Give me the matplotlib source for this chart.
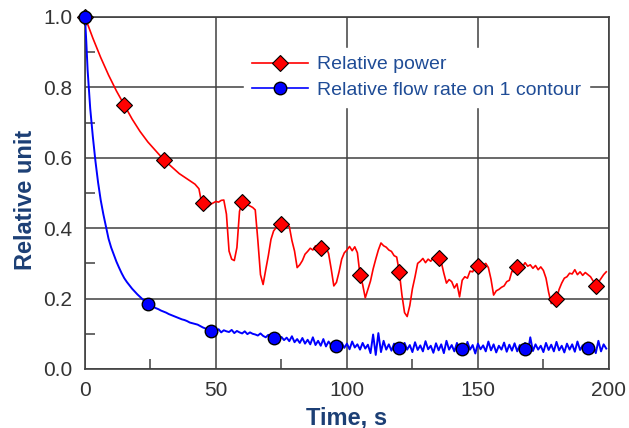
import matplotlib
matplotlib.use("Agg")
from matplotlib import pyplot as plt
from matplotlib.lines import Line2D
from matplotlib.ticker import MultipleLocator

plt.rcParams['font.family'] = ['Liberation Sans', 'DejaVu Sans']

# relative power: smooth start, then 1 s samples
power_t = [0, 3, 6, 9, 12, 15, 18, 21, 24, 27, 30, 33, 36, 39, 42, 43.5, 44.2] + list(range(45, 200))
power_y = [1.0, 0.94, 0.885, 0.835, 0.79, 0.75, 0.71, 0.675, 0.645, 0.62, 0.595, 0.575, 0.555, 0.54, 0.525, 0.512, 0.485,
           0.472, 0.465, 0.461, 0.468, 0.472, 0.476, 0.474, 0.479, 0.480, 0.440,
           0.335, 0.312, 0.308, 0.345, 0.448, 0.474, 0.470, 0.467, 0.463, 0.459,
           0.452, 0.365, 0.268, 0.240, 0.282, 0.322, 0.368, 0.392, 0.402, 0.408,
           0.412, 0.411, 0.408, 0.405, 0.365, 0.335, 0.288, 0.296, 0.308, 0.326,
           0.334, 0.343, 0.338, 0.350, 0.343, 0.344, 0.352, 0.346, 0.328, 0.284,
           0.236, 0.246, 0.276, 0.312, 0.330, 0.338, 0.348, 0.336, 0.347, 0.330,
           0.267, 0.240, 0.202, 0.226, 0.250, 0.284, 0.312, 0.338, 0.358, 0.350,
           0.346, 0.338, 0.334, 0.322, 0.318, 0.275, 0.210, 0.160, 0.149, 0.180,
           0.228, 0.262, 0.300, 0.306, 0.314, 0.302, 0.312, 0.306, 0.316, 0.308,
           0.315, 0.304, 0.272, 0.244, 0.254, 0.248, 0.230, 0.242, 0.205, 0.252,
           0.262, 0.258, 0.278, 0.276, 0.290, 0.292, 0.302, 0.294, 0.300, 0.288,
           0.255, 0.210, 0.222, 0.226, 0.232, 0.236, 0.248, 0.252, 0.278, 0.276,
           0.290, 0.298, 0.290, 0.302, 0.292, 0.296, 0.286, 0.294, 0.282, 0.290,
           0.280, 0.258, 0.218, 0.186, 0.190, 0.200, 0.226, 0.244, 0.258, 0.262,
           0.272, 0.270, 0.282, 0.268, 0.276, 0.266, 0.274, 0.268, 0.262, 0.250,
           0.240, 0.246, 0.257, 0.268, 0.276]
power_mark_t = [0, 15, 30, 45, 60, 75, 90, 105, 120, 135, 150, 165, 180, 195]
power_mark_y = [1.0, 0.75, 0.595, 0.472, 0.474, 0.412, 0.344, 0.267, 0.275, 0.315, 0.292, 0.29, 0.2, 0.236]

# relative flow rate on 1 contour
flow_t = [0, 0.5, 1, 2, 3, 4, 5, 6, 7, 8, 9, 10, 11, 12, 13, 14, 15, 16, 18, 20, 22, 24] + list(range(25, 200))
flow_y = [1.0, 0.93, 0.85, 0.74, 0.66, 0.59, 0.53, 0.48, 0.44, 0.405, 0.37, 0.345, 0.325, 0.305, 0.288,
          0.272, 0.258, 0.247, 0.228, 0.212, 0.198, 0.185,
          0.181, 0.177, 0.173, 0.170, 0.166, 0.163, 0.160, 0.156, 0.153, 0.150,
          0.147, 0.144, 0.141, 0.139, 0.136, 0.132, 0.130, 0.128, 0.126, 0.122,
          0.118, 0.115, 0.112, 0.110, 0.114, 0.108, 0.113, 0.104, 0.110, 0.107,
          0.105, 0.111, 0.102, 0.108, 0.104, 0.101, 0.107, 0.099, 0.104, 0.100,
          0.098, 0.095, 0.101, 0.094, 0.090, 0.097, 0.089, 0.088, 0.094, 0.083,
          0.091, 0.082, 0.089, 0.079, 0.093, 0.076, 0.085, 0.074, 0.088, 0.072,
          0.083, 0.070, 0.090, 0.068, 0.080, 0.066, 0.085, 0.064, 0.078, 0.067,
          0.062, 0.080, 0.058, 0.075, 0.060, 0.072, 0.056, 0.078, 0.061, 0.070,
          0.055, 0.074, 0.058, 0.069, 0.045, 0.098, 0.040, 0.102, 0.048, 0.080,
          0.055, 0.070, 0.052, 0.072, 0.060, 0.062, 0.050, 0.074, 0.055, 0.068,
          0.048, 0.076, 0.054, 0.067, 0.050, 0.079, 0.056, 0.066, 0.046, 0.073,
          0.053, 0.070, 0.045, 0.080, 0.055, 0.068, 0.050, 0.074, 0.052, 0.060,
          0.048, 0.077, 0.055, 0.068, 0.044, 0.072, 0.056, 0.067, 0.050, 0.078,
          0.053, 0.070, 0.047, 0.066, 0.055, 0.075, 0.049, 0.069, 0.052, 0.073,
          0.050, 0.068, 0.056, 0.074, 0.044, 0.090, 0.051, 0.070, 0.055, 0.066,
          0.048, 0.074, 0.054, 0.069, 0.050, 0.077, 0.053, 0.066, 0.047, 0.072,
          0.055, 0.070, 0.049, 0.078, 0.054, 0.067, 0.050, 0.075, 0.056, 0.065,
          0.045, 0.080, 0.050, 0.070, 0.058]
flow_mark_t = [0, 24, 48, 72, 96, 120, 144, 168, 192]
flow_mark_y = [1.0, 0.185, 0.108, 0.088, 0.065, 0.06, 0.057, 0.057, 0.06]

labels = ["Relative power", "Relative flow rate on 1 contour"]

fig = plt.figure(figsize=(6.29, 4.28), dpi=100)
ax = fig.add_axes([0.1351, 0.1379, 0.8329, 0.8224])

frame_col = "#404040"
ax.plot(power_t, power_y, color="#FF0000", lw=1.2, zorder=3)
ax.plot(power_mark_t, power_mark_y, ls="none", marker="D", ms=8, mfc="#FF0000", mec="black", mew=0.8,
        zorder=4, clip_on=False)
ax.plot(flow_t, flow_y, color="#0000FF", lw=1.4, zorder=5)
ax.plot(flow_mark_t, flow_mark_y, ls="none", marker="o", ms=9, mfc="#0000FF", mec="black", mew=1.0,
        zorder=6, clip_on=False)

ax.set_xlim(0, 200)
ax.set_ylim(0, 1.0)
ax.xaxis.set_major_locator(MultipleLocator(50))
ax.xaxis.set_minor_locator(MultipleLocator(25))
ax.yaxis.set_major_locator(MultipleLocator(0.2))
ax.yaxis.set_minor_locator(MultipleLocator(0.1))
ax.yaxis.set_major_formatter(matplotlib.ticker.FormatStrFormatter("%.1f"))
ax.grid(True, which="major", color=frame_col, lw=1.1, zorder=1)
ax.tick_params(which="major", length=0, pad=9, labelsize=15, labelcolor="#333333")
ax.tick_params(which="minor", direction="in", length=7, width=1.1, color=frame_col)
for s in ax.spines.values():
    s.set_color(frame_col)
    s.set_linewidth(1.2)

ax.set_xlabel("Time, s", fontsize=17, fontweight="bold", color="#1c3f75", labelpad=4)
ax.set_ylabel("Relative unit", fontsize=17, fontweight="bold", color="#1c3f75", labelpad=4)
ax.yaxis.set_label_coords(-0.092, 0.48)

# legend (white box hides the grid behind it)
handles = [Line2D([], [], color="#FF0000", lw=1.2, marker="D", ms=8, mfc="#FF0000", mec="black", mew=0.8),
           Line2D([], [], color="#0000FF", lw=1.2, marker="o", ms=9, mfc="#0000FF", mec="black", mew=1.0)]
leg = ax.legend(handles, labels, loc="upper left", bbox_to_anchor=(0.304, 0.912), fontsize=14,
                frameon=True, fancybox=False, framealpha=1, edgecolor="white", facecolor="white",
                handlelength=2.9, handletextpad=0.45, labelspacing=0.42, borderpad=0.4, borderaxespad=0)
for t in leg.get_texts():
    t.set_color("#1f4c96")
leg.set_zorder(7)

plt.savefig("out.png", dpi=100)
